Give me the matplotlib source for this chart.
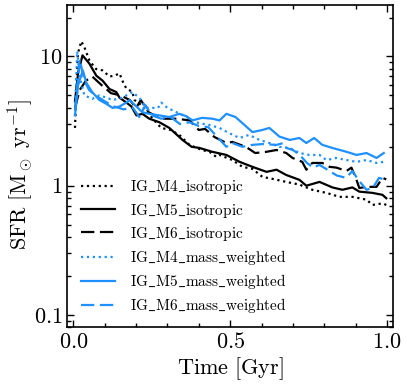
import matplotlib
matplotlib.use("Agg")
import matplotlib.pyplot as plt
from matplotlib.ticker import FixedLocator, FixedFormatter, MultipleLocator, LogLocator, NullFormatter

plt.rcParams['mathtext.fontset'] = 'cm'
plt.rcParams['font.family'] = 'serif'
plt.rcParams['font.serif'] = ['cmr10', 'DejaVu Serif']
plt.rcParams['axes.formatter.use_mathtext'] = True

# ---- data ----
t_m4_iso = [0.005, 0.014, 0.025, 0.035, 0.051, 0.072, 0.093, 0.115, 0.131, 0.147, 0.156, 0.168, 0.188,
            0.195, 0.217, 0.236, 0.258, 0.28, 0.31, 0.338, 0.37, 0.41, 0.434, 0.456, 0.466, 0.507, 0.539,
            0.571, 0.603, 0.635, 0.679, 0.721, 0.762, 0.807, 0.849, 0.89, 0.935, 0.954, 0.986, 0.998]
sfr_m4_iso = [2.8, 10.5, 13.1, 11.8, 9.3, 8.0, 7.8, 7.0, 7.1, 7.4, 6.5, 5.7, 5.3,
              4.6, 4.2, 3.7, 3.2, 2.8, 2.7, 2.47, 2.07, 1.89, 1.83, 1.67, 1.73, 1.58, 1.40,
              1.35, 1.17, 1.13, 1.07, 1.02, 0.93, 0.88, 0.82, 0.82, 0.78, 0.71, 0.73, 0.71]

t_m5_iso = [0.005, 0.015, 0.029, 0.051, 0.073, 0.093, 0.115, 0.137, 0.147, 0.169, 0.185, 0.201, 0.22,
            0.242, 0.274, 0.306, 0.348, 0.377, 0.402, 0.443, 0.488, 0.53, 0.571, 0.616, 0.648, 0.679,
            0.721, 0.743, 0.785, 0.826, 0.858, 0.89, 0.912, 0.954, 0.986, 0.998]
sfr_m5_iso = [4.5, 7.5, 10.2, 8.8, 7.1, 6.5, 5.6, 5.3, 4.8, 4.4, 4.1, 3.5, 3.6,
              3.3, 3.1, 2.8, 2.26, 2.0, 1.96, 1.83, 1.73, 1.53, 1.40, 1.28, 1.33, 1.21,
              1.11, 1.0, 1.07, 0.97, 0.93, 0.97, 0.90, 0.88, 0.85, 0.80]

t_m6_iso = [0.005, 0.02, 0.04, 0.06, 0.09, 0.12, 0.15, 0.18, 0.2, 0.215, 0.24, 0.28, 0.33, 0.37,
            0.40, 0.42, 0.45, 0.488, 0.507, 0.55, 0.58, 0.616, 0.648, 0.679, 0.699, 0.73, 0.743,
            0.762, 0.794, 0.817, 0.839, 0.871, 0.887, 0.903, 0.912, 0.935, 0.967, 0.986, 0.998]
sfr_m6_iso = [4.0, 5.5, 6.5, 7.0, 6.0, 5.2, 5.0, 4.6, 4.0, 4.6, 3.7, 3.3, 3.3, 3.2,
              2.7, 2.75, 2.38, 2.14, 2.18, 2.0, 1.79, 1.83, 1.89, 1.79, 1.64, 1.53, 1.33,
              1.5, 1.5, 1.4, 1.38, 1.3, 1.38, 1.11, 0.96, 0.98, 0.98, 1.15, 1.12]

t_m4_mw = [0.005, 0.012, 0.02, 0.035, 0.06, 0.083, 0.105, 0.125, 0.156, 0.188, 0.21, 0.233, 0.27,
           0.28, 0.3, 0.35, 0.40, 0.434, 0.466, 0.497, 0.53, 0.56, 0.594, 0.625, 0.657, 0.69, 0.721,
           0.753, 0.785, 0.807, 0.839, 0.871, 0.903, 0.935, 0.967, 0.99]
sfr_m4_mw = [3.5, 11.0, 7.0, 5.0, 4.7, 5.0, 4.8, 4.6, 4.8, 5.3, 4.8, 4.0, 4.0,
             4.4, 4.0, 3.5, 3.05, 2.95, 2.8, 2.55, 2.34, 2.47, 2.26, 2.14, 2.0, 1.96, 1.79,
             1.73, 1.73, 1.58, 1.64, 1.58, 1.53, 1.58, 1.5, 1.53]

t_m5_mw = [0.005, 0.015, 0.03, 0.042, 0.06, 0.083, 0.105, 0.125, 0.147, 0.169, 0.179, 0.201, 0.22,
           0.242, 0.274, 0.306, 0.338, 0.36, 0.38, 0.41, 0.443, 0.466, 0.488, 0.517, 0.539, 0.571,
           0.603, 0.625, 0.657, 0.69, 0.721, 0.743, 0.768, 0.794, 0.826, 0.871, 0.903, 0.935, 0.967, 0.99]
sfr_m5_mw = [3.5, 6.0, 7.8, 6.2, 5.3, 4.6, 4.3, 4.0, 4.1, 4.4, 4.6, 4.1, 3.7,
             3.6, 3.5, 3.4, 3.6, 3.45, 3.2, 3.35, 3.3, 3.2, 3.6, 3.4, 3.05, 2.6,
             2.7, 2.8, 2.4, 2.26, 2.34, 2.14, 2.34, 2.07, 1.96, 1.83, 1.73, 1.79, 1.64, 1.79]

t_m6_mw = [0.005, 0.02, 0.035, 0.05, 0.07, 0.1, 0.13, 0.16, 0.19, 0.21, 0.23, 0.25, 0.28, 0.31,
           0.34, 0.37, 0.40, 0.43, 0.488, 0.507, 0.539, 0.571, 0.603, 0.648, 0.67, 0.679, 0.70,
           0.72, 0.745, 0.765, 0.785, 0.81, 0.84, 0.87, 0.89, 0.91, 0.935, 0.955, 0.975, 0.99]
sfr_m6_mw = [3.8, 9.5, 6.5, 5.5, 5.0, 4.5, 4.1, 3.9, 4.0, 3.4, 4.2, 3.5, 3.3, 3.4,
             3.0, 3.1, 2.9, 2.84, 2.0, 2.14, 2.0, 2.07, 2.1, 2.07, 2.14, 1.96, 1.89,
             1.75, 1.5, 1.38, 1.45, 1.33, 1.2, 1.15, 1.3, 1.1, 0.93, 0.96, 1.15, 1.12]

labels = ['IG_M4_isotropic', 'IG_M5_isotropic', 'IG_M6_isotropic',
          'IG_M4_mass_weighted', 'IG_M5_mass_weighted', 'IG_M6_mass_weighted']
x_ticks = [0.0, 0.5, 1.0]
x_tick_labels = ['0.0', '0.5', '1.0']
y_ticks = [0.1, 1, 10]
y_tick_labels = ['0.1', '1', '10']

series = [(t_m4_iso, sfr_m4_iso), (t_m5_iso, sfr_m5_iso), (t_m6_iso, sfr_m6_iso),
          (t_m4_mw, sfr_m4_mw), (t_m5_mw, sfr_m5_mw), (t_m6_mw, sfr_m6_mw)]
colors = ['black'] * 3 + ['#1e90ff'] * 3
styles = [':', '-', (0, (6, 2.5)), ':', '-', (0, (6, 2.5))]

fig = plt.figure(figsize=(4.07, 3.88), dpi=100)
ax = fig.add_axes([0.165, 0.156, 0.801, 0.831])

for (t, s), c, ls, lab in zip(series, colors, styles, labels):
    ax.plot(t, s, color=c, ls=ls, lw=1.6, label=r'$\mathrm{' + lab.replace('_', r'\_') + '}$')

ax.set_yscale('log')
ax.set_xlim(-0.02, 1.02)
ax.set_ylim(0.08, 25)

ax.xaxis.set_major_locator(FixedLocator(x_ticks))
ax.xaxis.set_major_formatter(FixedFormatter([r'$' + l + '$' for l in x_tick_labels]))
ax.xaxis.set_minor_locator(MultipleLocator(0.1))
ax.yaxis.set_major_locator(FixedLocator(y_ticks))
ax.yaxis.set_major_formatter(FixedFormatter([r'$' + l + '$' for l in y_tick_labels]))
ax.yaxis.set_minor_locator(LogLocator(base=10, subs=range(2, 10)))
ax.yaxis.set_minor_formatter(NullFormatter())

ax.tick_params(which='both', direction='in', top=True, right=True, labelsize=16, width=1)
ax.tick_params(which='major', length=5)
ax.tick_params(which='minor', length=3)
for sp in ax.spines.values():
    sp.set_linewidth(1.2)

ax.set_xlabel(r'$\mathrm{Time\ [Gyr]}$', fontsize=16, labelpad=2)
ax.set_ylabel(r'$\mathrm{SFR\ [M_\odot\ yr^{-1}]}$', fontsize=16)
ax.yaxis.set_label_coords(-0.098, 0.475)

ax.legend(loc='upper left', bbox_to_anchor=(0.0, 0.505), frameon=False, fontsize=11,
          handlelength=2.2, labelspacing=0.34, handletextpad=1.0)

fig.savefig('out.png', dpi=100)
